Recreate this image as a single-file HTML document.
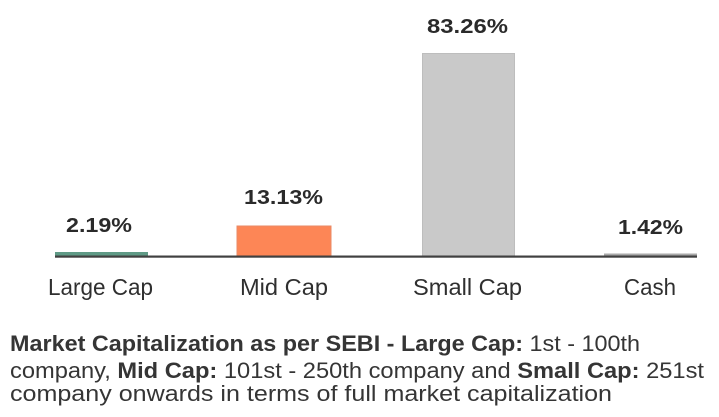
<!DOCTYPE html>
<html>
<head>
<meta charset="utf-8">
<style>
  html,body{margin:0;padding:0;background:#fff;}
  body{width:719px;height:417px;overflow:hidden;}
  svg{display:block;}
  .v{font-family:"Liberation Sans",sans-serif;font-weight:bold;font-size:20px;fill:#2a2a2a;}
  .c{font-family:"Liberation Sans",sans-serif;font-size:23px;fill:#2f2f2f;}
  .t{font-family:"Liberation Sans",sans-serif;font-size:22px;fill:#353535;}
  .b{font-weight:bold;}
</style>
</head>
<body>
<svg width="719" height="417" viewBox="0 0 719 417" xmlns="http://www.w3.org/2000/svg">
  <rect x="0" y="0" width="719" height="417" fill="#fff"/>
  <!-- bars -->
  <rect x="55" y="252" width="93" height="5" fill="#5f9a86"/>
  <rect x="237" y="226" width="94" height="31" fill="#fd8656" stroke="#e98a66" stroke-width="1"/>
  <rect x="422.5" y="53.5" width="92" height="203" fill="#c9c9c9" stroke="#bdbdbd" stroke-width="1"/>
  <rect x="604" y="253.5" width="93" height="3.5" fill="#a9a9a9"/>
  <!-- axis -->
  <rect x="55" y="255.5" width="642" height="2.2" fill="#404040"/>
  <!-- value labels -->
  <text class="v" x="66" y="232" textLength="66" lengthAdjust="spacingAndGlyphs">2.19%</text>
  <text class="v" x="244" y="204" textLength="79" lengthAdjust="spacingAndGlyphs">13.13%</text>
  <text class="v" x="427" y="33" textLength="81" lengthAdjust="spacingAndGlyphs">83.26%</text>
  <text class="v" x="618" y="234" textLength="65" lengthAdjust="spacingAndGlyphs">1.42%</text>
  <!-- category labels -->
  <text class="c" x="48" y="295" textLength="105" lengthAdjust="spacingAndGlyphs">Large Cap</text>
  <text class="c" x="240" y="295" textLength="88" lengthAdjust="spacingAndGlyphs">Mid Cap</text>
  <text class="c" x="413" y="295" textLength="109" lengthAdjust="spacingAndGlyphs">Small Cap</text>
  <text class="c" x="624" y="295" textLength="52" lengthAdjust="spacingAndGlyphs">Cash</text>
  <!-- footnote -->
  <text class="t" x="10" y="351" textLength="630" lengthAdjust="spacingAndGlyphs"><tspan class="b">Market Capitalization as per SEBI - Large Cap:</tspan> 1st - 100th</text>
  <text class="t" x="10" y="378" textLength="694" lengthAdjust="spacingAndGlyphs">company, <tspan class="b">Mid Cap:</tspan> 101st - 250th company and <tspan class="b">Small Cap:</tspan> 251st</text>
  <text class="t" x="10" y="401" textLength="602" lengthAdjust="spacingAndGlyphs">company onwards in terms of full market capitalization</text>
</svg>
</body>
</html>
